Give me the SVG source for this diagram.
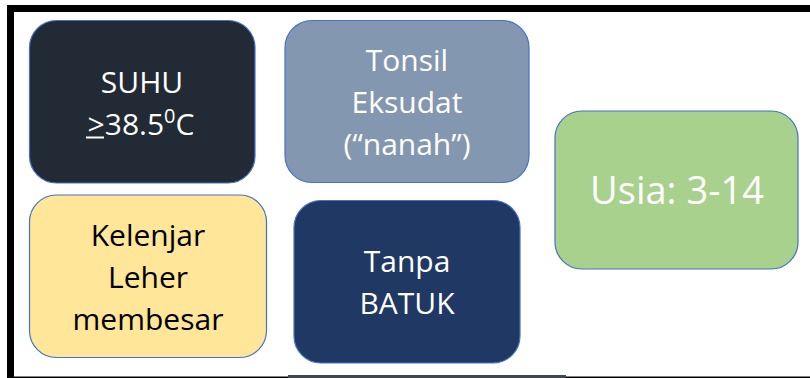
<svg xmlns="http://www.w3.org/2000/svg" width="810" height="378" viewBox="0 0 810 378">
  <style>
    .box { stroke: #4472C4; stroke-width: 1.2; }
    .t { font-family: "Open Sans", "Noto Sans", "Liberation Sans", sans-serif; font-size: 30px; text-anchor: middle; }
    .w { fill: #FFFFFF; }
    .k { fill: #000000; }
  </style>
  <rect x="0" y="0" width="810" height="378" fill="#FFFFFF"/>
  <g id="frame">
    <rect x="7" y="5" width="803" height="7" fill="#000000"/>
    <rect x="7" y="5" width="7" height="373" fill="#000000"/>
    <rect x="7" y="376.5" width="803" height="1.5" fill="#000000"/>
    <rect x="288" y="375" width="278" height="3" fill="#3E4853"/>
  </g>
  <g id="connectors"></g>
  <g id="suhu">
    <rect class="box" x="29.5" y="20.5" width="225.5" height="162.5" rx="27" fill="#222A35"/>
    <text class="t w" x="142" y="93">SUHU</text>
    <text class="t w" x="141" y="135">&gt;38.5<tspan font-size="20" dy="-12">0</tspan><tspan dy="12">C</tspan></text>
    <line x1="86" y1="137.5" x2="104" y2="137.5" stroke="#FFFFFF" stroke-width="2"/>
  </g>
  <g id="tonsil">
    <rect class="box" x="285" y="20.5" width="244" height="162" rx="27" fill="#8497B0"/>
    <text class="t w" x="407" y="71">Tonsil</text>
    <text class="t w" x="407" y="113">Eksudat</text>
    <text class="t w" x="407" y="155">(“nanah”)</text>
  </g>
  <g id="kelenjar">
    <rect class="box" x="29.5" y="195" width="237" height="162.5" rx="27" fill="#FFE699"/>
    <text class="t k" x="148" y="246">Kelenjar</text>
    <text class="t k" x="148" y="288">Leher</text>
    <text class="t k" x="148" y="330">membesar</text>
  </g>
  <g id="tanpa">
    <rect class="box" x="294" y="200.5" width="226" height="162.5" rx="27" fill="#203864"/>
    <text class="t w" x="407" y="272">Tanpa</text>
    <text class="t w" x="407" y="314">BATUK</text>
  </g>
  <g id="usia">
    <rect class="box" x="555" y="111" width="243" height="158" rx="27" fill="#A9D18E"/>
    <text class="t w" x="677" y="204" style="font-size:38px">Usia: 3-14</text>
  </g>
</svg>
